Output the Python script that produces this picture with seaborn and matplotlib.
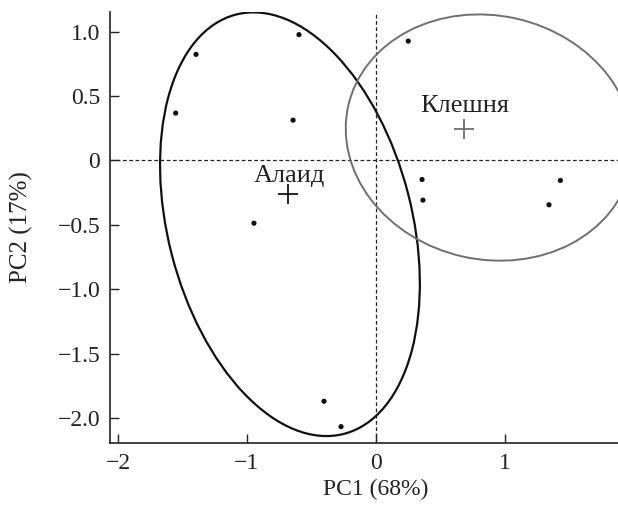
import matplotlib
matplotlib.use("Agg")
import matplotlib.pyplot as plt
from matplotlib.patches import Ellipse
from matplotlib.ticker import FixedLocator, FixedFormatter
import seaborn as sns
import pandas as pd

# ---- data ----
pc1 = [-1.395, -0.597, -1.553, -0.643, -0.946, -0.403, -0.271,
       0.250, 0.357, 0.364, 1.429, 1.341]
pc2 = [0.824, 0.977, 0.368, 0.313, -0.487, -1.870, -2.067,
       0.927, -0.148, -0.308, -0.155, -0.344]
group = ["Алаид"] * 7 + ["Клешня"] * 5

centroid_names = ["Алаид", "Клешня"]
centroid_x = [-0.68, 0.68]
centroid_y = [-0.26, 0.246]
label_x = [-0.674, 0.69]
label_y = [-0.171, 0.38]

ell_cx = [-0.667, 0.88]
ell_cy = [-0.495, 0.178]
ell_w = [3.362, 2.245]
ell_h = [1.892, 1.894]
ell_angle = [104.4, -12.7]

xticks = [-2, -1, 0, 1]
xticklabels = ["−2", "−1", "0", "1"]
yticks = [1.0, 0.5, 0.0, -0.5, -1.0, -1.5, -2.0]
yticklabels = ["1.0", "0.5", "0", "−0.5", "−1.0", "−1.5", "−2.0"]

# ---- style ----
sns.set_style("ticks")
plt.rcParams["font.family"] = ["Liberation Serif", "DejaVu Serif"]

fig = plt.figure(figsize=(6.18, 5.05), dpi=100)
ax = fig.add_axes([110 / 618, 1 - 443 / 505, 508 / 618, 431 / 505])

colors = {"Алаид": "#111111", "Клешня": "#707070"}

# reference lines
ax.axhline(0, color="#222222", lw=0.9, ls=(0, (3, 2)), zorder=1)
ax.axvline(0, color="#222222", lw=0.9, ls=(0, (3, 2)), zorder=1)

df = pd.DataFrame({"PC1": pc1, "PC2": pc2, "group": group})
sns.scatterplot(data=df, x="PC1", y="PC2", color="#111111", s=14,
                edgecolor="none", ax=ax, legend=False, zorder=3)

for i, name in enumerate(centroid_names):
    e = Ellipse((ell_cx[i], ell_cy[i]), width=ell_w[i], height=ell_h[i],
                angle=ell_angle[i], fill=False, edgecolor=colors[name],
                lw=1.6 if i == 0 else 1.4, zorder=2)
    ax.add_patch(e)
    ax.plot([centroid_x[i]], [centroid_y[i]], marker="+", ms=15, mew=1.3,
            color=colors[name], ls="none", zorder=3)
    ax.text(label_x[i], label_y[i], name, ha="center", va="baseline",
            fontsize=19, color="#222222")

ax.set_xlim(-2.062, 1.876)
ax.set_ylim(-2.194, 1.153)

ax.xaxis.set_major_locator(FixedLocator(xticks))
ax.xaxis.set_major_formatter(FixedFormatter(xticklabels))
ax.yaxis.set_major_locator(FixedLocator(yticks))
ax.yaxis.set_major_formatter(FixedFormatter(yticklabels))

ax.tick_params(direction="in", length=6.5, width=1.0, labelsize=17,
               colors="#222222")
ax.tick_params(axis="x", pad=7)
ax.tick_params(axis="y", pad=7)

for s in ["top", "right"]:
    ax.spines[s].set_visible(False)
for s in ["left", "bottom"]:
    ax.spines[s].set_linewidth(1.3)
    ax.spines[s].set_color("#333333")

ax.set_xlabel("PC1 (68%)", fontsize=17, color="#222222")
ax.set_ylabel("PC2 (17%)", fontsize=18, color="#222222")
ax.xaxis.set_label_coords(266 / 508, -36 / 431)
ax.yaxis.set_label_coords(-77 / 508, 0.5)

fig.savefig("out.png", dpi=100)
